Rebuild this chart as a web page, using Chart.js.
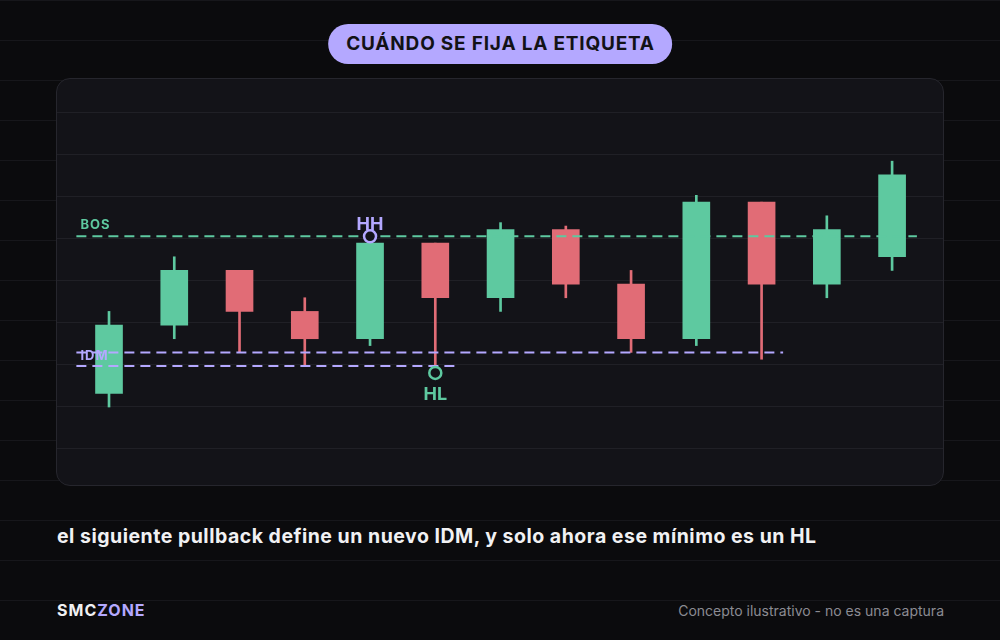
<!DOCTYPE html>
<html>
<head>
<meta charset="utf-8">
<script src="https://cdn.jsdelivr.net/npm/chart.js@4.4.1/dist/chart.umd.min.js"></script>
<style>
  html, body {
    margin: 0;
    padding: 0;
  }
  body {
    width: 1000px;
    height: 640px;
    position: relative;
    overflow: hidden;
    font-family: Inter, "Noto Sans", sans-serif;
    background: repeating-linear-gradient(to bottom, #17171b 0 1px, transparent 1px 40px), #0b0b0d;
  }
  #title {
    position: absolute;
    top: 24px;
    left: 50%;
    transform: translateX(-50%);
    height: 40px;
    line-height: 40px;
    padding: 0 17px 0 18px;
    border-radius: 20px;
    background: #b4a8ff;
    color: #121216;
    font-weight: 700;
    font-size: 19px;
    letter-spacing: 0.8px;
    white-space: nowrap;
  }
  #panel {
    position: absolute;
    left: 56px;
    top: 78px;
    width: 886px;
    height: 406px;
    border: 1px solid #26262d;
    border-radius: 14px;
    background: #131318;
    overflow: hidden;
  }
  #caption {
    position: absolute;
    left: 57px;
    top: 526px;
    line-height: 20px;
    font-size: 19.5px;
    font-weight: 700;
    letter-spacing: 0.5px;
    color: #f1f1f3;
    white-space: nowrap;
  }
  #brand {
    position: absolute;
    left: 57px;
    top: 602px;
    line-height: 16px;
    font-size: 16px;
    font-weight: 700;
    letter-spacing: 1px;
    color: #f1f1f3;
  }
  #brand span { color: #b4a8ff; }
  #note {
    position: absolute;
    right: 56px;
    top: 603px;
    line-height: 16px;
    font-size: 14px;
    color: #8b8b93;
  }
</style>
</head>
<body>
<div id="title">CUÁNDO SE FIJA LA ETIQUETA</div>
<div id="panel"><canvas id="chart" width="886" height="406"></canvas></div>
<div id="caption">el siguiente pullback define un nuevo IDM, y solo ahora ese mínimo es un HL</div>
<div id="brand">SMC<span>ZONE</span></div>
<div id="note">Concepto ilustrativo - no es una captura</div>

<script>
// velas (índice 0..12)
const opens = [1, 6, 10, 7, 5, 12, 8, 13, 9, 5, 15, 9, 11];
const highs = [7, 11, 10, 8, 12, 12, 13.5, 13.25, 10, 15.5, 15, 14, 18];
const lows = [0, 5, 4, 3, 4.5, 3, 7, 8, 4, 4.5, 3.5, 8, 10];
const closes = [6, 10, 7, 5, 12, 8, 13, 9, 5, 15, 9, 13, 17];

// niveles
const bosLevel = 12.5;
const bosSpan = [-0.5, 12.38];
const idmLevels = [4, 3];
const idmSpans = [[-0.5, 10.33], [-0.5, 5.3]];
const hhPoint = { x: 4, y: 12.5 };
const hlPoint = { x: 5, y: 2.5 };

const GREEN = "#5ec9a0";
const RED = "#e16c76";
const LAVENDER = "#b4a8ff";
const PANEL_BG = "#131318";

const idx = opens.map((_, i) => i);
const candleColors = idx.map((i) => (closes[i] >= opens[i] ? GREEN : RED));

const wicks = idx.map((i) => ({ x: i, y: [lows[i], highs[i]] }));
const bodies = idx.map((i) => ({ x: i, y: [opens[i], closes[i]] }));

function levelLine(level, span, color) {
  return {
    type: "line",
    data: [
      { x: span[0], y: level },
      { x: span[1], y: level },
    ],
    borderColor: color,
    borderWidth: 2,
    borderDash: [10, 6],
    pointRadius: 0,
    fill: false,
    order: 2,
  };
}

function marker(p, color) {
  return {
    type: "scatter",
    data: [p],
    pointStyle: "circle",
    pointRadius: 6,
    pointBorderWidth: 2.5,
    pointBorderColor: color,
    pointBackgroundColor: PANEL_BG,
    order: 1,
  };
}

// textos de los niveles, por encima de las velas y debajo de las líneas
const levelLabels = {
  id: "levelLabels",
  afterDatasetDraw(chart, args) {
    if (args.index !== 1) return;
    const ctx = chart.ctx;
    const x = chart.scales.x;
    const y = chart.scales.y;
    ctx.save();
    ctx.font = "700 13px Inter, sans-serif";
    ctx.letterSpacing = "1px";
    ctx.textAlign = "left";
    ctx.textBaseline = "alphabetic";
    ctx.fillStyle = GREEN;
    ctx.fillText("BOS", x.getPixelForValue(bosSpan[0]) + 4, y.getPixelForValue(bosLevel) - 7);
    ctx.fillStyle = LAVENDER;
    ctx.fillText("IDM", x.getPixelForValue(idmSpans[0][0]) + 4, y.getPixelForValue(idmLevels[0]) + 8);
    ctx.restore();
  },
};

const swingLabels = {
  id: "swingLabels",
  afterDatasetsDraw(chart) {
    const ctx = chart.ctx;
    const x = chart.scales.x;
    const y = chart.scales.y;
    ctx.save();
    ctx.font = "700 18px Inter, sans-serif";
    ctx.textAlign = "center";
    ctx.textBaseline = "alphabetic";
    ctx.fillStyle = LAVENDER;
    ctx.fillText("HH", x.getPixelForValue(hhPoint.x), y.getPixelForValue(hhPoint.y) - 6);
    ctx.fillStyle = GREEN;
    ctx.fillText("HL", x.getPixelForValue(hlPoint.x), y.getPixelForValue(hlPoint.y) + 27);
    ctx.restore();
  },
};

new Chart(document.getElementById("chart"), {
  type: "bar",
  data: {
    datasets: [
      {
        data: wicks,
        backgroundColor: candleColors,
        barThickness: 2,
        grouped: false,
        order: 5,
      },
      {
        data: bodies,
        backgroundColor: candleColors,
        barThickness: 27,
        grouped: false,
        order: 4,
      },
      levelLine(bosLevel, bosSpan, GREEN),
      levelLine(idmLevels[0], idmSpans[0], LAVENDER),
      levelLine(idmLevels[1], idmSpans[1], LAVENDER),
      marker(hhPoint, LAVENDER),
      marker(hlPoint, GREEN),
    ],
  },
  options: {
    responsive: false,
    animation: false,
    layout: { autoPadding: false, padding: { top: 33, bottom: 37, left: 0, right: 0 } },
    plugins: {
      legend: { display: false },
      tooltip: { enabled: false },
    },
    scales: {
      x: { type: "linear", min: -0.797, max: 12.78, offset: false, display: false },
      y: { min: -3, max: 21.6, display: false },
      grid: {
        type: "linear",
        position: "left",
        min: 0,
        max: 8,
        ticks: { display: false, stepSize: 1 },
        grid: { color: "#202026", drawTicks: false },
        border: { display: false },
        afterFit: (s) => {
          s.width = 0;
        },
      },
    },
  },
  plugins: [levelLabels, swingLabels],
});
</script>
</body>
</html>
